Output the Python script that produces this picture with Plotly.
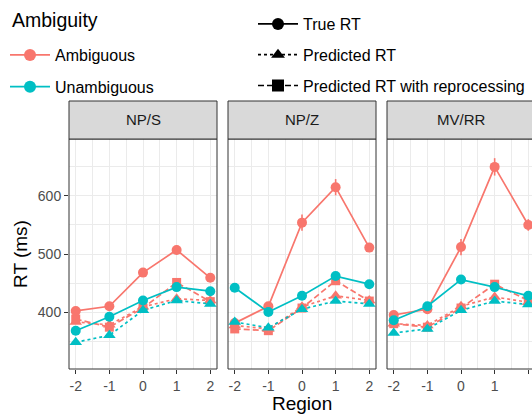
import plotly.graph_objects as go

# ---------------- data ----------------
regions = [-2, -1, 0, 1, 2]
conditions = ["NP/S", "NP/Z", "MV/RR"]

true_amb_nps = [402, 410, 468, 507, 459]
true_amb_npz = [381, 410, 554, 615, 511]
true_amb_mvrr = [395, 405, 512, 650, 550]
true_amb_err_nps = [6, 6, 7, 8, 6]
true_amb_err_npz = [5, 6, 14, 14, 6]
true_amb_err_mvrr = [6, 6, 14, 15, 10]

true_unamb_nps = [368, 392, 420, 443, 436]
true_unamb_npz = [442, 400, 428, 462, 448]
true_unamb_mvrr = [386, 410, 456, 443, 428]
true_unamb_err_nps = [5, 5, 5, 5, 5]
true_unamb_err_npz = [5, 5, 5, 6, 5]
true_unamb_err_mvrr = [5, 5, 6, 5, 5]

pred_amb_nps = [383, 378, 409, 423, 420]
pred_amb_npz = [377, 371, 409, 428, 420]
pred_amb_mvrr = [380, 377, 410, 426, 417]

reproc_amb_nps = [388, 374, 407, 451, 418]
reproc_amb_npz = [371, 368, 407, 454, 419]
reproc_amb_mvrr = [380, 374, 407, 448, 420]

pred_unamb_nps = [348, 360, 403, 420, 414]
pred_unamb_npz = [383, 373, 405, 419, 414]
pred_unamb_mvrr = [364, 371, 403, 419, 413]

ambiguity_labels = ["Ambiguous", "Unambiguous"]
type_labels = ["True RT", "Predicted RT", "Predicted RT with reprocessing"]

# ---------------- style ----------------
W, H = 532, 414
SALMON = "#F8766D"
CYAN = "#00BFC4"
FONT = "Liberation Sans, Arial, sans-serif"
DASH_PRED = "3px,3px"
DASH_REPROC = "6px,3px"
LW = 1.7

def px(x):
    return x / W

def py(y):
    return 1 - y / H

panel_px = [(69, 217), (228, 376), (387, 532)]
xranges = [[-2.2, 2.2], [-2.2, 2.2], [-2.2, -2.2 + 145 / 33.64]]
panel_top, panel_bot = 139, 369
strip_top = 101

fig = go.Figure()

data_by_cond = [
    (true_amb_nps, true_amb_err_nps, true_unamb_nps, true_unamb_err_nps, pred_amb_nps, reproc_amb_nps, pred_unamb_nps),
    (true_amb_npz, true_amb_err_npz, true_unamb_npz, true_unamb_err_npz, pred_amb_npz, reproc_amb_npz, pred_unamb_npz),
    (true_amb_mvrr, true_amb_err_mvrr, true_unamb_mvrr, true_unamb_err_mvrr, pred_amb_mvrr, reproc_amb_mvrr, pred_unamb_mvrr),
]

for i, (ta, tae, tu, tue, pa, ra, pu) in enumerate(data_by_cond):
    xa = "x" if i == 0 else f"x{i+1}"
    ya = "y" if i == 0 else f"y{i+1}"
    common = dict(x=regions, xaxis=xa, yaxis=ya, showlegend=False, mode="lines+markers", hoverinfo="skip")
    # ambiguous
    fig.add_trace(go.Scatter(y=pa, line=dict(color=SALMON, width=LW, dash=DASH_PRED),
                             marker=dict(symbol="triangle-up", size=11, color=SALMON), **common))
    fig.add_trace(go.Scatter(y=ra, line=dict(color=SALMON, width=LW, dash=DASH_REPROC),
                             marker=dict(symbol="square", size=9, color=SALMON), **common))
    fig.add_trace(go.Scatter(y=ta, line=dict(color=SALMON, width=LW),
                             error_y=dict(type="data", array=tae, color=SALMON, thickness=1.6, width=0),
                             marker=dict(symbol="circle", size=10, color=SALMON), **common))
    # unambiguous
    fig.add_trace(go.Scatter(y=tu, line=dict(color=CYAN, width=LW),
                             error_y=dict(type="data", array=tue, color=CYAN, thickness=1.6, width=0),
                             marker=dict(symbol="circle", size=10, color=CYAN), **common))
    fig.add_trace(go.Scatter(y=pu, line=dict(color=CYAN, width=LW, dash=DASH_PRED),
                             marker=dict(symbol="triangle-up", size=11, color=CYAN), **common))

# legend dummy traces
for lab, col in zip(ambiguity_labels, [SALMON, CYAN]):
    fig.add_trace(go.Scatter(x=[None], y=[None], mode="lines+markers", name=lab,
                             line=dict(color=col, width=LW), marker=dict(symbol="circle", size=12, color=col),
                             legend="legend", legendgroup=lab))
for lab, sym, dash in zip(type_labels, ["circle", "triangle-up", "square"], ["solid", DASH_PRED, DASH_REPROC]):
    fig.add_trace(go.Scatter(x=[None], y=[None], mode="lines+markers", name=lab,
                             line=dict(color="black", width=LW, dash=dash),
                             marker=dict(symbol=sym, size=12, color="black"),
                             legend="legend2", legendgroup=lab))

grid = dict(showgrid=True, gridcolor="#EBEBEB", gridwidth=1.3, zeroline=False,
            ticks="outside", ticklen=4, tickcolor="#333333", tickwidth=1, automargin=False,
            tickfont=dict(family=FONT, size=14, color="#4D4D4D"), showline=False)

layout = dict(
    width=W, height=H, margin=dict(l=0, r=0, t=0, b=0, autoexpand=False),
    paper_bgcolor="white", plot_bgcolor="white",
    font=dict(family=FONT, color="black"),
)
for i in range(3):
    xk = "xaxis" if i == 0 else f"xaxis{i+1}"
    yk = "yaxis" if i == 0 else f"yaxis{i+1}"
    l, r = panel_px[i]
    layout[xk] = dict(domain=[px(l), min(1.0, px(r))], range=xranges[i], anchor="y" if i == 0 else f"y{i+1}",
                      tickmode="array", tickvals=regions, ticktext=[str(v) for v in regions],
                      minor=dict(showgrid=True, dtick=0.5, tick0=0, gridcolor="#EBEBEB", gridwidth=0.7),
                      fixedrange=True, **grid)
    layout[yk] = dict(domain=[py(panel_bot), py(panel_top)], range=[302, 698],
                      anchor="x" if i == 0 else f"x{i+1}",
                      dtick=100, tick0=0, showticklabels=(i == 0),
                      minor=dict(showgrid=True, dtick=50, tick0=0, gridcolor="#EBEBEB", gridwidth=0.7),
                      fixedrange=True, **grid)
    if i > 0:
        layout[yk]["ticks"] = ""

layout["legend"] = dict(x=px(5), y=py(38), xanchor="left", yanchor="top",
                        font=dict(size=16, family=FONT, color="black"), tracegroupgap=8,
                        bgcolor="rgba(0,0,0,0)", itemwidth=40)
layout["legend2"] = dict(x=px(253), y=py(7), xanchor="left", yanchor="top",
                         font=dict(size=16, family=FONT, color="black"), tracegroupgap=7,
                         bgcolor="rgba(0,0,0,0)", itemwidth=40)

shapes = []
annotations = []
for i, cond in enumerate(conditions):
    l, r = panel_px[i]
    r_ext = r if i < 2 else 545
    shapes.append(dict(type="rect", xref="paper", yref="paper", x0=px(l), x1=px(r_ext),
                       y0=py(panel_bot), y1=py(panel_top), line=dict(color="#333333", width=1),
                       fillcolor="rgba(0,0,0,0)", layer="above"))
    shapes.append(dict(type="rect", xref="paper", yref="paper", x0=px(l), x1=px(r_ext),
                       y0=py(panel_top), y1=py(strip_top), line=dict(color="#333333", width=1),
                       fillcolor="#D9D9D9", layer="above"))
    annotations.append(dict(text=cond, xref="paper", yref="paper", x=px((l + (r if i < 2 else 535)) / 2),
                            y=py((panel_top + strip_top) / 2), showarrow=False, xanchor="center",
                            yanchor="middle", font=dict(family=FONT, size=15, color="#1A1A1A")))
annotations.append(dict(text="Ambiguity", xref="paper", yref="paper", x=px(10), y=py(20),
                        showarrow=False, xanchor="left", yanchor="middle",
                        font=dict(family=FONT, size=19.5, color="black")))
annotations.append(dict(text="Region", xref="paper", yref="paper", x=px(302), y=py(403),
                        showarrow=False, xanchor="center", yanchor="middle",
                        font=dict(family=FONT, size=19, color="black")))
annotations.append(dict(text="RT (ms)", xref="paper", yref="paper", x=px(21), y=py(254),
                        showarrow=False, xanchor="center", yanchor="middle", textangle=-90,
                        font=dict(family=FONT, size=19, color="black")))
layout["shapes"] = shapes
layout["annotations"] = annotations

fig.update_layout(**layout)
fig.write_html("out.html", config={"displayModeBar": False},
               post_script="document.body.style.margin='0px';")
